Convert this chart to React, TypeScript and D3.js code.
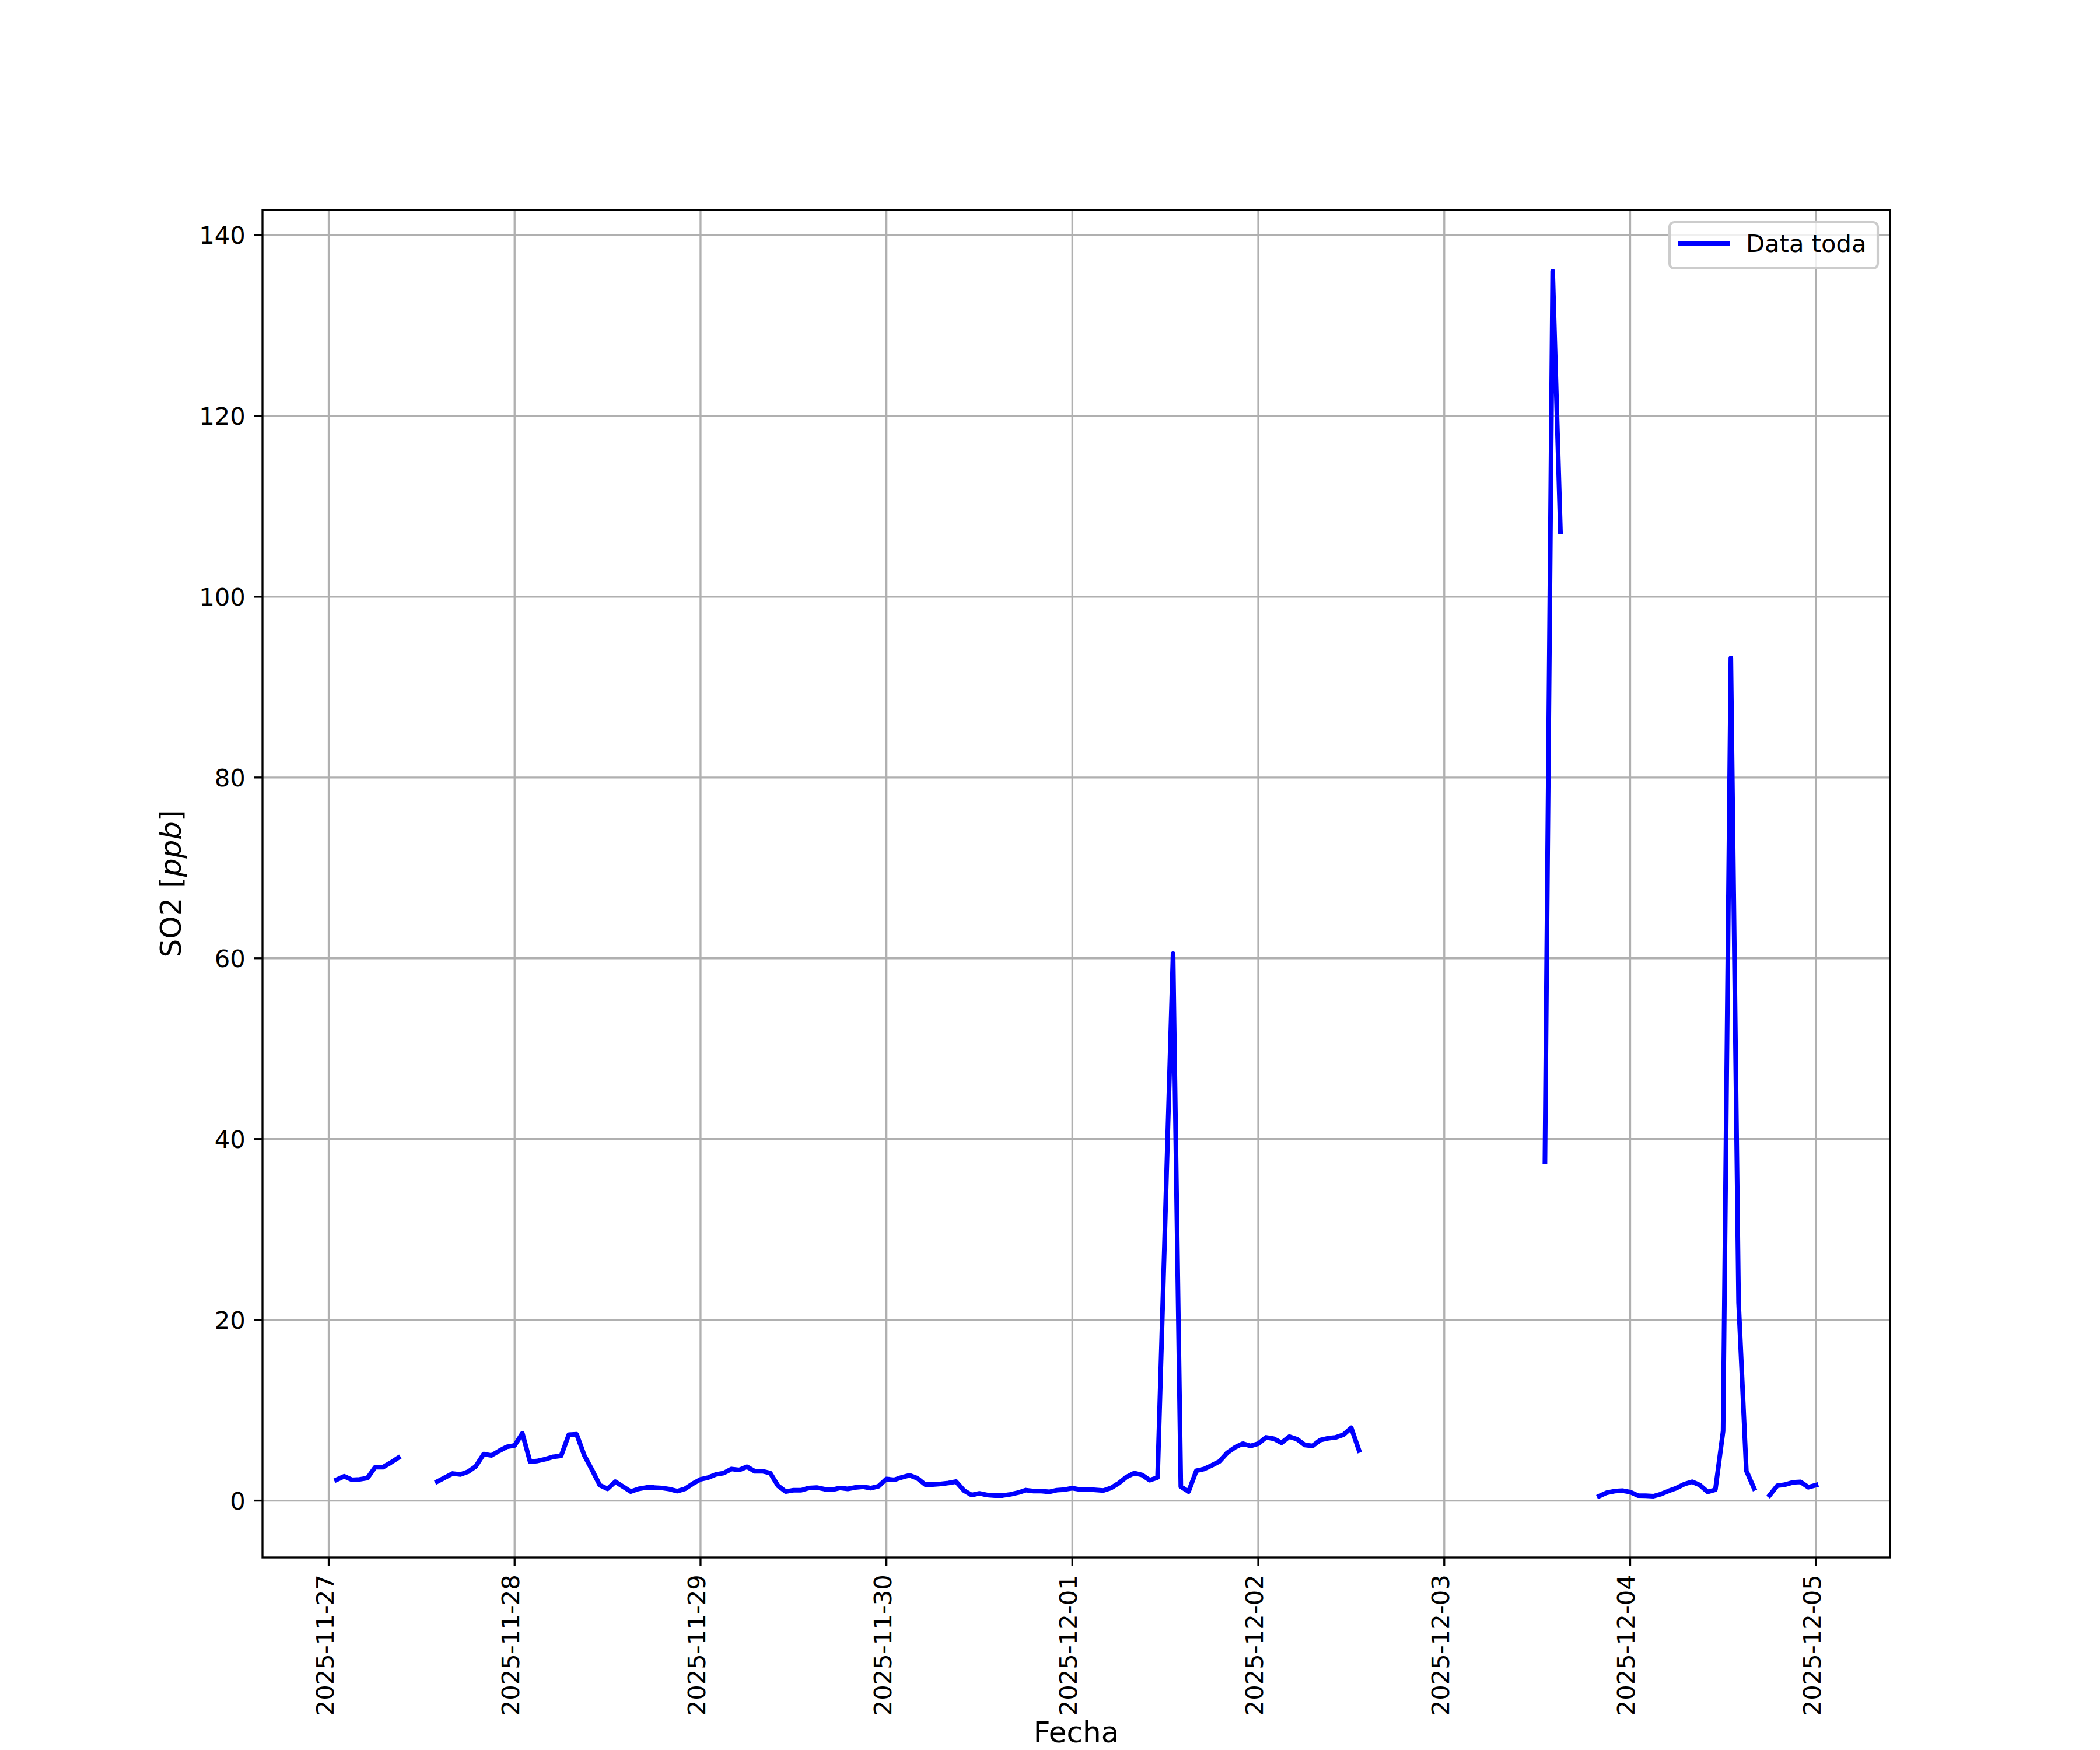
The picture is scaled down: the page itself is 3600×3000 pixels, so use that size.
import React, { useMemo } from "react";
import * as d3 from "d3";

// hourly SO2 readings, first one at 2025-11-27 01:00, null = no data
const START_UTC = Date.UTC(2025, 10, 27, 1);
const so2Values: (number | null)[] = [
  2.3, 2.7, 2.3, 2.35, 2.5, 3.7, 3.7, 4.2, 4.75,
  null, null, null, null,
  2.1, 2.55, 3.0, 2.9, 3.2, 3.8, 5.15, 5.0, 5.5, 5.95, 6.1,
  7.45, 4.3, 4.4, 4.6, 4.85, 4.95, 7.3, 7.35, 5.0, 3.4, 1.7, 1.3,
  2.1, 1.55, 1.0, 1.3, 1.45, 1.45, 1.4, 1.27, 1.05, 1.3, 1.87, 2.35,
  2.55, 2.9, 3.05, 3.5, 3.4, 3.75, 3.25, 3.25, 3.05, 1.65, 1.0, 1.15,
  1.15, 1.4, 1.45, 1.27, 1.2, 1.4, 1.3, 1.46, 1.53, 1.38, 1.6, 2.4,
  2.3, 2.58, 2.8, 2.47, 1.78, 1.78, 1.85, 1.95, 2.1, 1.12, 0.62, 0.8,
  0.62, 0.56, 0.56, 0.69, 0.88, 1.16, 1.05, 1.05, 0.97, 1.16, 1.22, 1.38,
  1.22, 1.25, 1.18, 1.12, 1.4, 1.94, 2.62, 3.05, 2.84, 2.26, 2.56, 31.5,
  60.5, 1.55, 1.0, 3.3, 3.5, 3.9, 4.35, 5.3, 5.9, 6.3, 6.05, 6.3,
  7.0, 6.85, 6.4, 7.08, 6.8, 6.15, 6.05, 6.7, 6.9, 7.0, 7.3, 8.05,
  5.55,
  null, null, null, null, null, null, null, null, null, null, null, null,
  null, null, null, null, null, null, null, null, null, null, null,
  37.5, 136.0, 107.2,
  null, null, null, null,
  0.49, 0.88, 1.05, 1.1, 0.95, 0.56, 0.54, 0.49, 0.73, 1.08, 1.4, 1.83,
  2.09, 1.72, 0.97, 1.2, 7.7, 93.2, 21.9, 3.3, 1.35,
  null,
  0.58, 1.66, 1.77, 2.02, 2.07, 1.48, 1.72,
];

const xTickLabels = [
  "2025-11-27", "2025-11-28", "2025-11-29", "2025-11-30",
  "2025-12-01", "2025-12-02", "2025-12-03", "2025-12-04", "2025-12-05",
];
const yTickValues = [0, 20, 40, 60, 80, 100, 120, 140];
const seriesLabel = "Data toda";

const W = 3600;
const H = 3000;
const plot = { left: 450, right: 3240, top: 360, bottom: 2670 };
const FONT = "DejaVu Sans, sans-serif";
const PT = 300 / 72;

type Pt = { t: Date; v: number | null };

export default function App() {
  const points: Pt[] = useMemo(
    () => so2Values.map((v, i) => ({ t: new Date(START_UTC + i * 3600000), v })),
    []
  );

  // matplotlib style 5% margins
  const valid = points.filter((p) => p.v != null);
  const tMin = +d3.min(valid, (p) => p.t)!;
  const tMax = +d3.max(valid, (p) => p.t)!;
  const vMin = d3.min(valid, (p) => p.v as number)!;
  const vMax = d3.max(valid, (p) => p.v as number)!;
  const tPad = (tMax - tMin) * 0.05;
  const vPad = (vMax - vMin) * 0.05;

  const x = d3
    .scaleUtc()
    .domain([new Date(tMin - tPad), new Date(tMax + tPad)])
    .range([plot.left, plot.right]);
  const y = d3
    .scaleLinear()
    .domain([vMin - vPad, vMax + vPad])
    .range([plot.bottom, plot.top]);

  const line = d3
    .line<Pt>()
    .defined((p) => p.v != null)
    .x((p) => x(p.t))
    .y((p) => y(p.v as number));

  const xTicks = xTickLabels.map((s) => ({ s, d: d3.utcParse("%Y-%m-%d")(s)! }));

  const gridW = 0.8 * PT;
  const tickLen = 3.5 * PT;
  const tickFont = 10 * PT;
  const labelFont = 12 * PT;

  const legend = { x0: 2862, y0: 381, x1: 3219, y1: 460 };

  return (
    <svg
      width={W}
      height={H}
      viewBox={`0 0 ${W} ${H}`}
      style={{ position: "absolute", left: 0, top: 0, background: "#fff" }}
      fontFamily={FONT}
    >
      <rect x={0} y={0} width={W} height={H} fill="#fff" />
      {/* grid */}
      <g stroke="#b0b0b0" strokeWidth={gridW}>
        {xTicks.map(({ s, d }) => (
          <line key={s} x1={x(d)} x2={x(d)} y1={plot.top} y2={plot.bottom} />
        ))}
        {yTickValues.map((v) => (
          <line key={v} x1={plot.left} x2={plot.right} y1={y(v)} y2={y(v)} />
        ))}
      </g>

      <path
        d={line(points) ?? ""}
        fill="none"
        stroke="#0000ff"
        strokeWidth={8}
        strokeLinejoin="round"
        strokeLinecap="square"
      />

      {/* frame */}
      <rect
        x={plot.left}
        y={plot.top}
        width={plot.right - plot.left}
        height={plot.bottom - plot.top}
        fill="none"
        stroke="#000"
        strokeWidth={gridW}
      />

      {/* x ticks */}
      <g>
        {xTicks.map(({ s, d }) => (
          <g key={s}>
            <line
              x1={x(d)}
              x2={x(d)}
              y1={plot.bottom}
              y2={plot.bottom + tickLen}
              stroke="#000"
              strokeWidth={gridW}
            />
            <text
              transform={`translate(${x(d) + 8},${plot.bottom + tickLen + 3.5 * PT}) rotate(-90)`}
              textAnchor="end"
              fontSize={tickFont}
              fill="#000"
            >
              {s}
            </text>
          </g>
        ))}
      </g>

      {/* y ticks */}
      <g>
        {yTickValues.map((v) => (
          <g key={v}>
            <line
              x1={plot.left - tickLen}
              x2={plot.left}
              y1={y(v)}
              y2={y(v)}
              stroke="#000"
              strokeWidth={gridW}
            />
            <text
              x={plot.left - tickLen - 3.5 * PT}
              y={y(v) + 15}
              textAnchor="end"
              fontSize={tickFont}
              fill="#000"
            >
              {v}
            </text>
          </g>
        ))}
      </g>

      {/* axis labels */}
      <text
        x={(plot.left + plot.right) / 2}
        y={2987}
        textAnchor="middle"
        fontSize={labelFont}
        fill="#000"
      >
        Fecha
      </text>
      <text
        transform={`translate(310,${(plot.top + plot.bottom) / 2}) rotate(-90)`}
        textAnchor="middle"
        fontSize={labelFont}
        fill="#000"
      >
        SO2 [<tspan fontStyle="italic">ppb</tspan>]
      </text>

      {/* legend */}
      <rect
        x={legend.x0}
        y={legend.y0}
        width={legend.x1 - legend.x0}
        height={legend.y1 - legend.y0}
        rx={8}
        fill="#fff"
        fillOpacity={0.8}
        stroke="#cccccc"
        strokeWidth={PT}
      />
      <line x1={2877} x2={2965} y1={417.5} y2={417.5} stroke="#0000ff" strokeWidth={8} />
      <text x={2993} y={432} fontSize={tickFont} fill="#000">
        {seriesLabel}
      </text>
    </svg>
  );
}
